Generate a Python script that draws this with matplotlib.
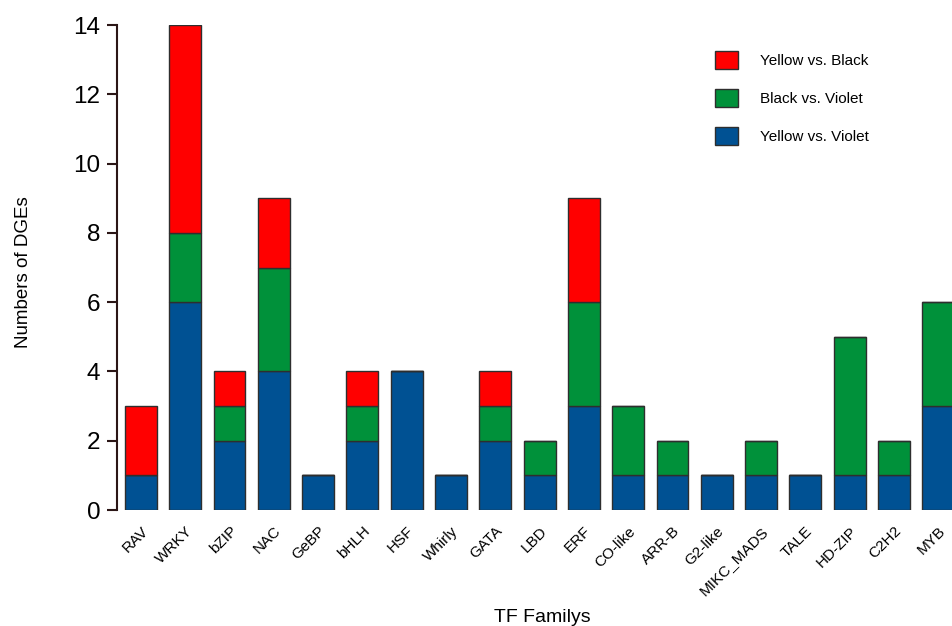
import numpy as np
import matplotlib.pyplot as plt
from matplotlib.patches import Patch

plt.rcParams['font.family'] = ['Liberation Sans', 'DejaVu Sans']

families = ["RAV", "WRKY", "bZIP", "NAC", "GeBP", "bHLH", "HSF", "Whirly", "GATA",
            "LBD", "ERF", "CO-like", "ARR-B", "G2-like", "MIKC_MADS", "TALE",
            "HD-ZIP", "C2H2", "MYB"]
yellow_violet = [1, 6, 2, 4, 1, 2, 4, 1, 2, 1, 3, 1, 1, 1, 1, 1, 1, 1, 3]
black_violet = [0, 2, 1, 3, 0, 1, 0, 0, 1, 1, 3, 2, 1, 0, 1, 0, 4, 1, 3]
yellow_black = [2, 6, 1, 2, 0, 1, 0, 0, 1, 0, 3, 0, 0, 0, 0, 0, 0, 0, 0]

c_red, c_green, c_blue = "#ff0000", "#00913a", "#005193"
edge = "#2e2e2e"

fig = plt.figure(figsize=(9.52, 6.26), dpi=100)
ax = fig.add_axes([0.1229, 0.1853, 0.8771, 0.7747])

x = np.arange(len(families))
w = 0.72
yv = np.array(yellow_violet)
bv = np.array(black_violet)
yb = np.array(yellow_black)

# stacked: Yellow vs. Violet at the base, then Black vs. Violet, then Yellow vs. Black
ax.bar(x, yv, w, color=c_blue, edgecolor=edge, linewidth=1)
ax.bar(x, bv, w, bottom=yv, color=c_green, edgecolor=edge, linewidth=1)
ax.bar(x, yb, w, bottom=yv + bv, color=c_red, edgecolor=edge, linewidth=1)

ax.set_xlim(-0.54, 18.31)
ax.set_ylim(0, 14)
ax.set_yticks(range(0, 15, 2))
ax.tick_params(axis='y', labelsize=17.5, length=7, width=1.5, color="#2b1616", pad=5)
ax.set_xticks(x)
ax.set_xticklabels(families, rotation=45, ha='right', rotation_mode='anchor', fontsize=11)
ax.tick_params(axis='x', length=0, pad=10)

for s in ["top", "right", "bottom"]:
    ax.spines[s].set_visible(False)
ax.spines["left"].set_color("#2b1616")
ax.spines["left"].set_linewidth(1.5)

ax.set_ylabel("Numbers of DGEs", fontsize=13.5)
ax.yaxis.set_label_coords(-0.102, 0.49)
ax.set_xlabel("TF Familys", fontsize=14)
ax.xaxis.set_label_coords(0.509, -0.205)

handles = [Patch(facecolor=c_red, edgecolor=edge, label="Yellow vs. Black"),
           Patch(facecolor=c_green, edgecolor=edge, label="Black vs. Violet"),
           Patch(facecolor=c_blue, edgecolor=edge, label="Yellow vs. Violet")]
fig.legend(handles=handles, loc="upper left", bbox_to_anchor=(0.745, 0.928),
           frameon=False, fontsize=11, handlelength=1.5, handleheight=1.45,
           labelspacing=1.28, handletextpad=1.4, borderaxespad=0)

fig.savefig("out.png", dpi=100)
